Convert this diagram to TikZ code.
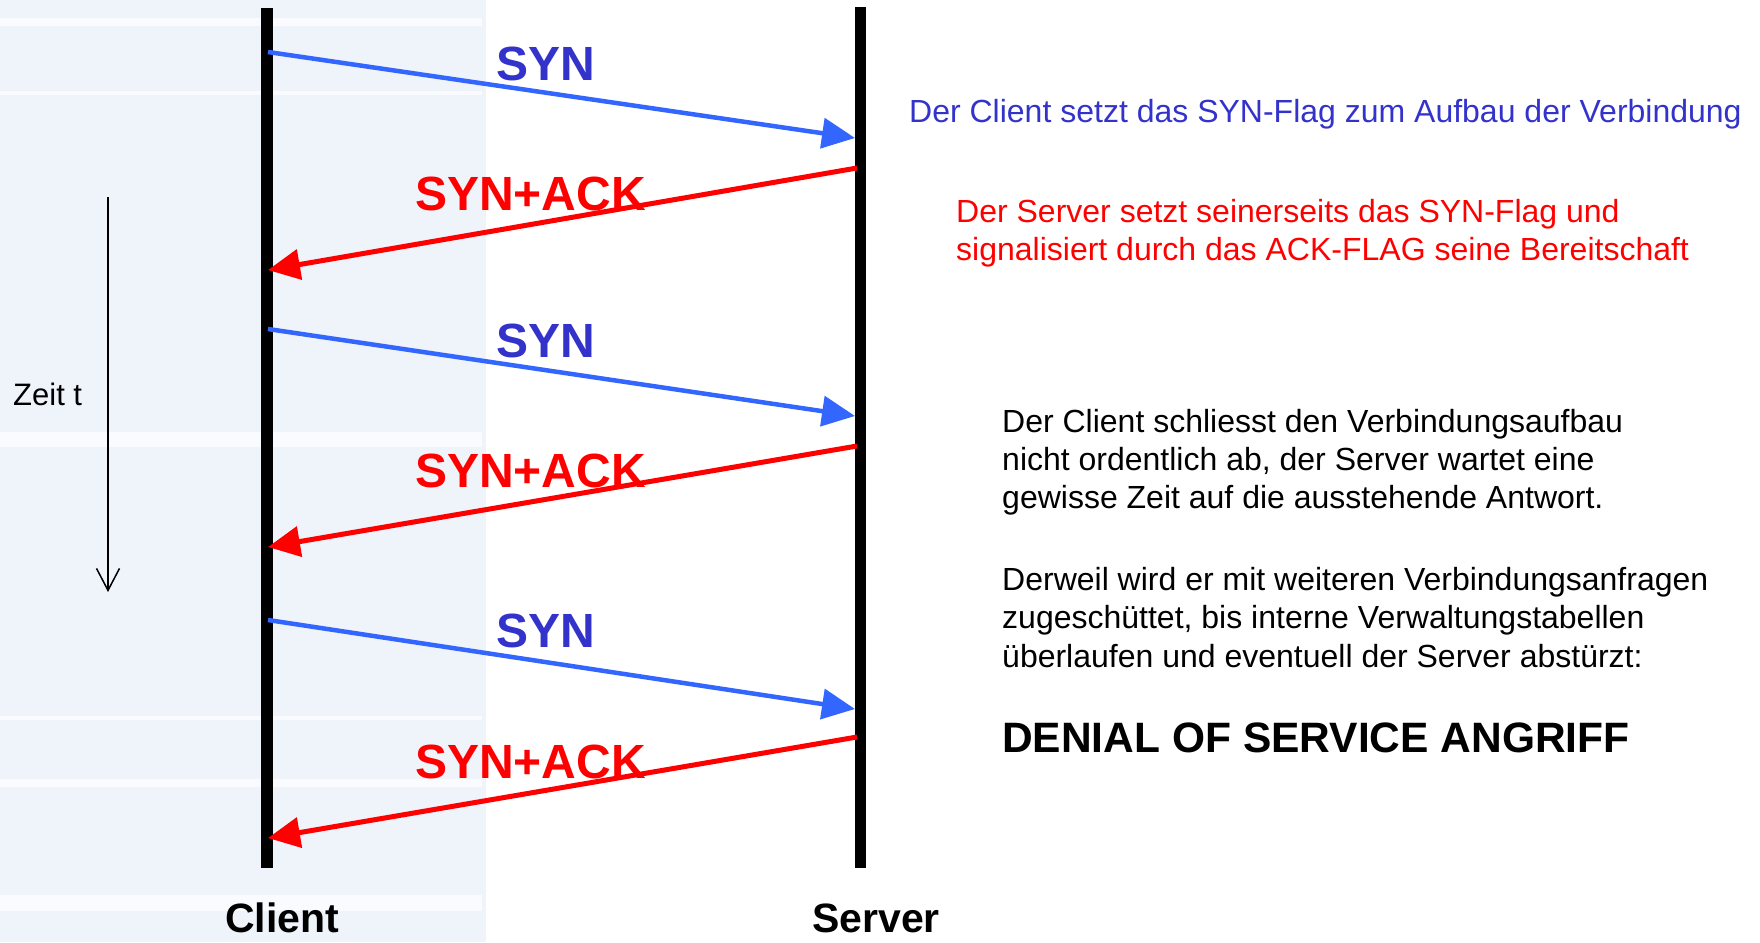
\documentclass[tikz,border=0pt]{standalone}
\usepackage{fontspec}
\setmainfont{Liberation Sans}
\usetikzlibrary{arrows.meta}
\definecolor{panel}{HTML}{EFF3FA}
\definecolor{stripe}{HTML}{FAFBFE}
\definecolor{synline}{HTML}{3366FF}
\definecolor{synlabel}{HTML}{3333CC}
\definecolor{ackred}{HTML}{FF0000}
\begin{document}
\begin{tikzpicture}[x=1pt,y=-1pt,
  lifeline/.style={line width=12pt, black},
  synarrow/.style={synline, line width=4.5pt, -{Triangle[length=33pt,width=30pt]}},
  ackarrow/.style={ackred, line width=5pt, -{Triangle[length=32pt,width=30pt]}},
  biglab/.style={font=\fontsize{48pt}{56pt}\selectfont\bfseries, inner sep=0pt, anchor=base west},
  synlab/.style={biglab, text=synlabel},
  acklab/.style={biglab, text=ackred},
  desc/.style={font=\fontsize{32pt}{38pt}\selectfont, inner sep=0pt, anchor=base west},
  partlab/.style={font=\fontsize{41pt}{48pt}\selectfont\bfseries, inner sep=0pt, text depth=0pt, anchor=base},
  timearrow/.style={line width=1.5pt, black, -{Straight Barb[length=22pt,width=23pt]}}
  ]
\useasboundingbox (0,0) rectangle (1760,942);
% background panel
\fill[panel] (0,0) rectangle (486,942);
\foreach \a/\b in {18/26, 91/95, 432/447, 716/720, 779/787, 895/911}
  \fill[stripe] (0,\a) rectangle (482,\b);
% lifelines
\coordinate (ctop) at (267,8);
\coordinate (cbot) at (267,868);
\coordinate (stop) at (860,7);
\coordinate (sbot) at (860,868);
\draw[lifeline] (ctop) -- (cbot);
\draw[lifeline, line width=11pt] (stop) -- (sbot);
% arrow end points
\coordinate (c1) at (268,52);  \coordinate (s1) at (855,138);
\coordinate (s2) at (857,168); \coordinate (c2) at (268,270);
\coordinate (c3) at (268,329); \coordinate (s3) at (855,416);
\coordinate (s4) at (857,446); \coordinate (c4) at (268,547);
\coordinate (c5) at (268,620); \coordinate (s5) at (855,709);
\coordinate (s6) at (857,737); \coordinate (c6) at (268,838);
\draw[synarrow] (c1) -- (s1);
\draw[ackarrow] (s2) -- (c2);
\draw[synarrow] (c3) -- (s3);
\draw[ackarrow] (s4) -- (c4);
\draw[synarrow] (c5) -- (s5);
\draw[ackarrow] (s6) -- (c6);
% arrow labels
\node[synlab] (syn1) at (496,80) {SYN};
\node[acklab] (ack1) at (415,210) {SYN+ACK};
\node[synlab] (syn2) at (496,357) {SYN};
\node[acklab] (ack2) at (415,487) {SYN+ACK};
\node[synlab] (syn3) at (496,647) {SYN};
\node[acklab] (ack3) at (415,778) {SYN+ACK};
% time axis
\coordinate (t1) at (108,197);
\coordinate (t2) at (108,592);
\draw[timearrow] (t1) -- (t2);
\node[font=\fontsize{31pt}{36pt}\selectfont, inner sep=0pt, anchor=base west] (zeit) at (13,405) {Zeit t};
% party labels
\node[partlab] (client) at (282,932) {Client};
\node[partlab] (server) at (876,932) {Server};
% descriptions
\node[desc, text=synlabel] (d1) at (909,122) {Der Client setzt das SYN-Flag zum Aufbau der Verbindung};
\node[desc, text=ackred] (d2a) at (956,222) {Der Server setzt seinerseits das SYN-Flag und};
\node[desc, text=ackred] (d2b) at (956,260) {signalisiert durch das ACK-FLAG seine Bereitschaft};
\node[desc] (p1a) at (1002,432) {Der Client schliesst den Verbindungsaufbau};
\node[desc] (p1b) at (1002,470) {nicht ordentlich ab, der Server wartet eine};
\node[desc] (p1c) at (1002,508) {gewisse Zeit auf die ausstehende Antwort.};
\node[desc] (p2a) at (1002,590) {Derweil wird er mit weiteren Verbindungsanfragen};
\node[desc] (p2b) at (1002,628) {zugeschüttet, bis interne Verwaltungstabellen};
\node[desc] (p2c) at (1002,667) {überlaufen und eventuell der Server abstürzt:};
\node[desc, font=\fontsize{42.5pt}{48pt}\selectfont\bfseries] (dos) at (1002,752) {DENIAL OF SERVICE ANGRIFF};
\end{tikzpicture}
\end{document}
